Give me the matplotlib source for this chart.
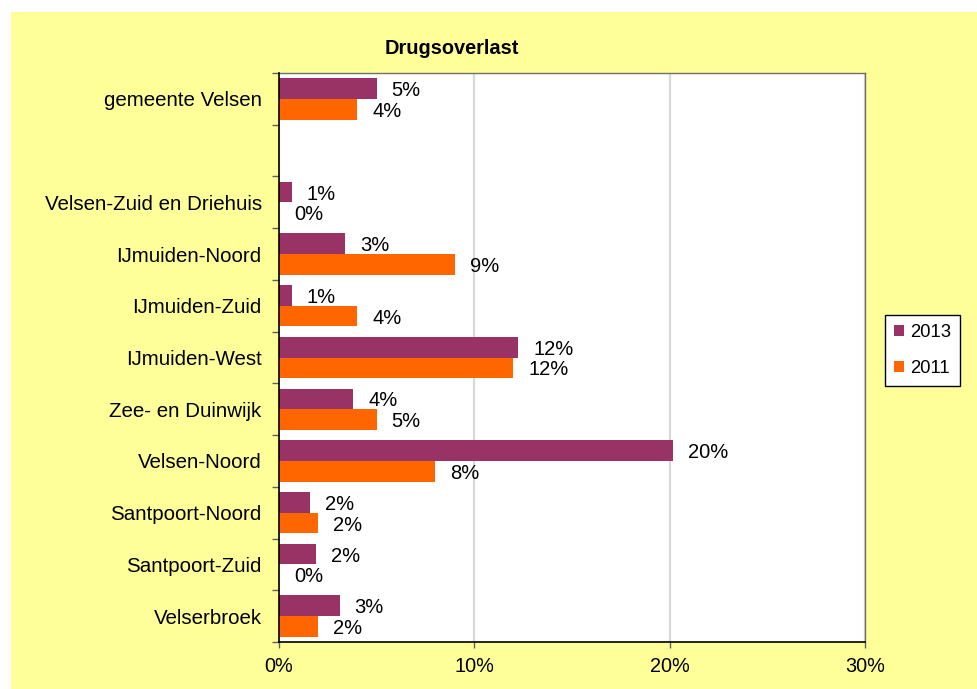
import matplotlib
matplotlib.use("Agg")
import matplotlib.pyplot as plt
from matplotlib.patches import Rectangle
import numpy as np

plt.rcParams['font.family'] = ['Liberation Sans', 'DejaVu Sans']

title = "Drugsoverlast"
categories = ["gemeente Velsen", "", "Velsen-Zuid en Driehuis", "IJmuiden-Noord",
              "IJmuiden-Zuid", "IJmuiden-West", "Zee- en Duinwijk", "Velsen-Noord",
              "Santpoort-Noord", "Santpoort-Zuid", "Velserbroek"]
values_2013 = [5.0, None, 0.65, 3.4, 0.65, 12.25, 3.8, 20.15, 1.6, 1.9, 3.1]
values_2011 = [4.0, None, 0.0, 9.0, 4.0, 12.0, 5.0, 8.0, 2.0, 0.0, 2.0]
series_names = ["2013", "2011"]
x_ticks = [0, 10, 20, 30]
x_ticklabels = ["0%", "10%", "20%", "30%"]

c2013 = "#993366"
c2011 = "#FF6600"

fig = plt.figure(figsize=(9.78, 6.89), dpi=100, facecolor="white")
# yellow chart area background
bg = Rectangle((11/978, 0), 1 - 11/978, (689-12)/689,
               transform=fig.transFigure, facecolor="#FFFF99",
               edgecolor="none", zorder=-10)
fig.add_artist(bg)

ax = fig.add_axes([279/978, 47/689, 586/978, 569/689])
ax.set_facecolor("white")

n = len(categories)
pos = np.arange(n)
h = 0.4
lab_off = 10.8  # points

for i, (v13, v11) in enumerate(zip(values_2013, values_2011)):
    if v13 is not None:
        ax.barh(pos[i] - h/2, v13, height=h, color=c2013, zorder=3)
        ax.annotate(f"{round(v13):d}%", (v13, pos[i] - h/2), xytext=(lab_off, -1.5),
                    textcoords="offset points", ha="left", va="center",
                    fontsize=14.5, zorder=4)
    if v11 is not None:
        ax.barh(pos[i] + h/2, v11, height=h, color=c2011, zorder=3)
        ax.annotate(f"{round(v11):d}%", (v11, pos[i] + h/2), xytext=(lab_off, -1.5),
                    textcoords="offset points", ha="left", va="center",
                    fontsize=14.5, zorder=4)

ax.set_xlim(0, 30)
ax.set_ylim(n - 0.5, -0.5)
ax.set_xticks(x_ticks)
ax.set_xticklabels(x_ticklabels, fontsize=14.3)
ax.tick_params(axis="x", direction="out", length=4, width=1, color="#606060", pad=6.5)

ax.set_yticks(np.arange(n + 1) - 0.5)
ax.set_yticklabels([])
ax.set_yticks(pos, minor=True)
ax.set_yticklabels(categories, minor=True, fontsize=14.8)
ax.tick_params(axis="y", which="major", direction="out", length=5, width=1, color="#606060")
ax.tick_params(axis="y", which="minor", length=0, pad=12.5)

ax.grid(axis="x", color="#D9D9D9", linewidth=1.6, zorder=0)
ax.set_axisbelow(True)

for s in ["left", "bottom"]:
    ax.spines[s].set_color("black")
    ax.spines[s].set_linewidth(1.2)
    ax.spines[s].set_zorder(5)
for s in ["top", "right"]:
    ax.spines[s].set_color("#707070")
    ax.spines[s].set_linewidth(1.0)

fig.text(452/978, 1 - 48/689, title, ha="center", va="center",
         fontsize=14.4, fontweight="bold")

handles = [Rectangle((0, 0), 1, 1, facecolor=c2013),
           Rectangle((0, 0), 1, 1, facecolor=c2011)]
leg = fig.legend(handles, series_names, loc="center",
                 bbox_to_anchor=((884 + 961) / 2 / 978, 1 - (314 + 387) / 2 / 689),
                 fontsize=13.3, frameon=True, fancybox=False, framealpha=1,
                 edgecolor="black", handlelength=0.55, handleheight=0.55,
                 handletextpad=0.3, labelspacing=1.05, borderpad=0.5, borderaxespad=0)
leg.get_frame().set_linewidth(1.0)

fig.savefig("out.png", dpi=100, facecolor=fig.get_facecolor())
